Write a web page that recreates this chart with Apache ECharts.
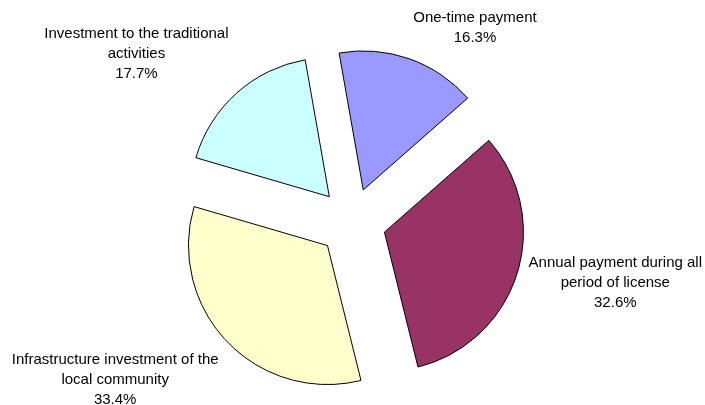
<!DOCTYPE html>
<html>
<head>
<meta charset="utf-8">
<script src="https://cdn.jsdelivr.net/npm/echarts@6/dist/echarts.min.js"></script>
<style>
  html, body { margin: 0; padding: 0; background: #fff; }
  #chart { width: 705px; height: 405px; }
</style>
</head>
<body>
<div id="chart"></div>
<script>
// slice names (line breaks as in the picture) and shares in %
var categories = [
  'One-time payment',
  'Annual payment during all\nperiod of license',
  'Infrastructure investment of the\nlocal community',
  'Investment to the traditional\nactivities'
]
var shares = [16.3, 32.6, 33.4, 17.7]
var colors = ['#9999FF', '#993366', '#FFFFCC', '#CCFFFF']

var cx = 352, cy = 222, radius = 139
var startAngle = 100     // echarts: degrees ccw from 3 o'clock
var explode = 34
var labelGap = 12
var fontSize = 15, lineH = 20
var fontFamily = 'Liberation Sans, Arial, sans-serif'

var chart = echarts.init(document.getElementById('chart'))

function labelText(i) {
  return categories[i] + '\n' + shares[i].toFixed(1) + '%'
}

// measure label boxes ourselves
var ctx = document.createElement('canvas').getContext('2d')
ctx.font = fontSize + 'px ' + fontFamily
function labelSize(i) {
  var lines = labelText(i).split('\n')
  var w = 0
  lines.forEach(function (l) { w = Math.max(w, ctx.measureText(l).width) })
  return { w: w, h: lines.length * lineH }
}

var total = shares.reduce(function (a, b) { return a + b }, 0)
// mid angle of each slice, clockwise from 12 o'clock
var midAngles = []
var acc = 0
shares.forEach(function (v) {
  midAngles.push((90 - startAngle) + 360 * (acc + v / 2) / total)
  acc += v
})

// exploded slices (selected state moves them out)
var pieData = categories.map(function (name, i) {
  return {
    name: name,
    value: shares[i],
    selected: true,
    itemStyle: { color: colors[i] }
  }
})
// same values again, only used to carry the labels
// (labelLayout x/y is ignored on selected slices)
var labelData = categories.map(function (name, i) {
  return { name: name, value: shares[i] }
})

var option = {
  animation: false,
  backgroundColor: '#fff',
  series: [{
    type: 'pie',
    center: [cx, cy],
    radius: radius,
    startAngle: startAngle,
    clockwise: true,
    selectedMode: 'multiple',
    selectedOffset: explode,
    data: pieData,
    itemStyle: { borderColor: '#000', borderWidth: 1 },
    emphasis: { disabled: true },
    label: { show: false },
    labelLine: { show: false }
  }, {
    type: 'pie',
    center: [cx, cy],
    radius: radius,
    startAngle: startAngle,
    clockwise: true,
    silent: true,
    avoidLabelOverlap: false,
    data: labelData,
    itemStyle: { color: 'rgba(0,0,0,0)', borderWidth: 0 },
    emphasis: { disabled: true },
    label: {
      show: true,
      position: 'outside',
      fontFamily: fontFamily,
      fontSize: fontSize,
      lineHeight: lineH,
      color: '#000',
      formatter: function (p) { return labelText(p.dataIndex) }
    },
    labelLine: { show: false },
    // put each label just outside its exploded slice, like excel does
    labelLayout: function (params) {
      var i = params.dataIndex
      var a = midAngles[i] * Math.PI / 180
      var dx = Math.sin(a), dy = -Math.cos(a)
      var d = radius + explode + labelGap
      var ax = cx + d * dx, ay = cy + d * dy
      var s = labelSize(i)
      var t = Math.min(1, Math.max(0, (Math.abs(dy) - 0.2) / 0.5))
      return {
        x: ax + (dx > 0 ? 1 : -1) * s.w / 2,
        y: ay + (dy > 0 ? 1 : -1) * t * s.h / 2,
        align: 'center',
        verticalAlign: 'middle'
      }
    }
  }]
}
chart.setOption(option)
</script>
</body>
</html>
